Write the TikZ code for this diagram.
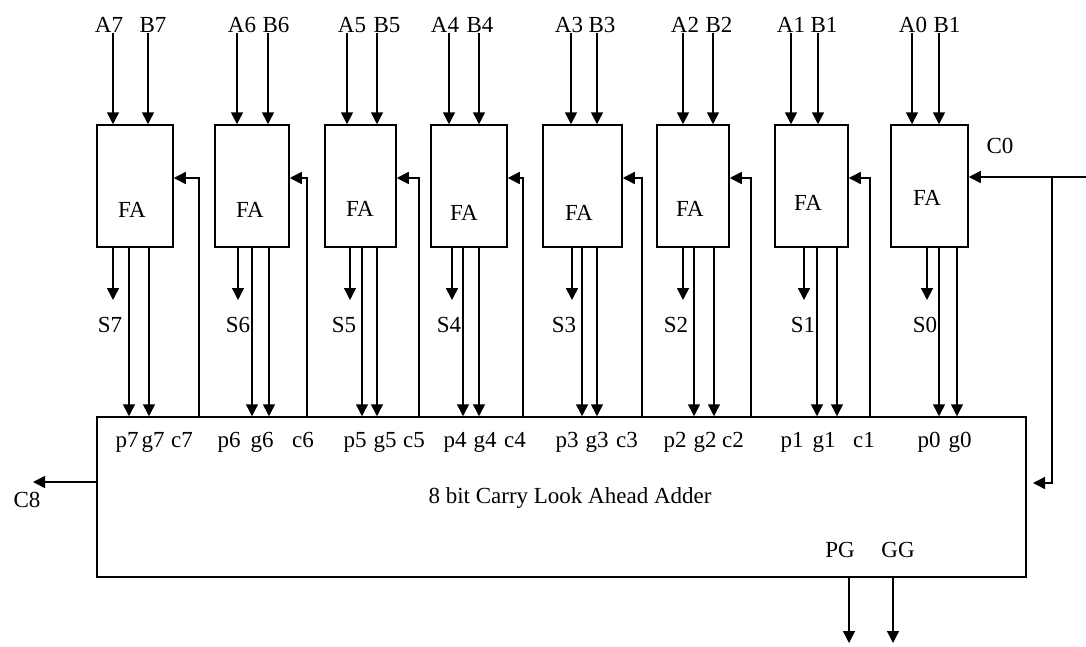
\documentclass[tikz,border=0pt]{standalone}
\usepackage{fontspec}
\setmainfont{Liberation Serif}
\usetikzlibrary{arrows.meta}
\begin{document}
\begin{tikzpicture}[x=1pt,y=-1pt,
  lbl/.style={font=\fontsize{23}{27}\selectfont, inner sep=0pt, anchor=base},
  wire/.style={line width=1.5pt, draw=black},
  arr/.style={wire, -{Triangle[length=12pt,width=12pt]}},
  fabox/.style={draw, line width=1.5pt, rectangle, inner sep=0pt, minimum height=122pt},
  clabox/.style={draw, line width=1.5pt, rectangle, inner sep=0pt, minimum width=929pt, minimum height=160pt}
]
\useasboundingbox (0,0) rectangle (1086,646);

% carry look-ahead block
\node[clabox] (cla) at (561.5,497) {};
\node[lbl] (clatxt) at (570,503) {8 bit Carry Look Ahead Adder};

% full adders
\foreach \i/\bl/\l/\r/\ax/\bx/\alx/\blx/\sx/\slx/\px/\gx/\plx/\glx/\fx/\fy in {
  7/B7/97/173/113/148/109/153/113/110/129/149/127/153/132/217,
  6/B6/215/289/237/268/242/276/238/238/252/269/229/262/250/217,
  5/B5/325/396/347/377/352/387/350/344/362/377/355/385/360/216,
  4/B4/431/507/449/479/445/480/452/449/463/479/455/485/464/220,
  3/B3/543/622/571/597/569/602/572/564/582/597/567/597/579/220,
  2/B2/657/729/683/713/685/719/683/676/694/714/675/705/690/216,
  1/B1/775/848/791/818/791/824/804/803/817/837/792/824/808/210,
  0/B1/891/968/912/939/913/947/927/925/939/957/929/960/927/205}{
  \pgfmathsetmacro\w{\r-\l}
  \pgfmathsetmacro\cxx{(\l+\r)/2}
  \node[fabox, minimum width=\w pt] (fa\i) at (\cxx,186) {};
  \node[lbl] (falbl\i) at (\fx,\fy) {FA};
  % inputs
  \node[lbl] (Alab\i) at (\alx,32) {A\i};
  \node[lbl] (Blab\i) at (\blx,32) {\bl};
  \coordinate (at\i) at (\ax,33);
  \coordinate (bt\i) at (\bx,33);
  \draw[arr] (at\i) -- (at\i |- fa\i.north);
  \draw[arr] (bt\i) -- (bt\i |- fa\i.north);
  % sum output
  \coordinate (st\i) at (\sx,300);
  \draw[arr] (fa\i.south -| st\i) -- (st\i);
  \node[lbl] (Slab\i) at (\slx,332) {S\i};
  % propagate / generate
  \coordinate (pp\i) at (\px,0);
  \coordinate (gg\i) at (\gx,0);
  \draw[arr] (fa\i.south -| pp\i) -- (cla.north -| pp\i);
  \draw[arr] (fa\i.south -| gg\i) -- (cla.north -| gg\i);
  \node[lbl] (plab\i) at (\plx,447) {p\i};
  \node[lbl] (glab\i) at (\glx,447) {g\i};
}

% internal carries
\foreach \i/\cx/\clx in {7/199/182, 6/307/303, 5/419/414, 4/523/515, 3/642/627, 2/751/733, 1/870/864}{
  \coordinate (cc\i) at (\cx,178);
  \draw[arr] (cla.north -| cc\i) -- (cc\i) -- (cc\i -| fa\i.east);
  \node[lbl] (clab\i) at (\clx,447) {c\i};
}

% carry in C0
\coordinate (c0in) at (1086,177);
\coordinate (c0j) at (1052,177);
\coordinate (c0b) at (1052,483);
\coordinate (c0tip) at (1033,483);
\draw[arr] (c0in) -- (fa0.east |- c0in);
\draw[arr] (c0j) -- (c0b) -- (c0tip);
\node[lbl] (C0lab) at (1000,153) {C0};

% carry out C8
\coordinate (c8tip) at (33,482);
\draw[arr] (cla.west |- c8tip) -- (c8tip);
\node[lbl] (C8lab) at (27,507) {C8};

% group propagate / generate
\node[lbl] (PGlab) at (840,557) {PG};
\node[lbl] (GGlab) at (898,557) {GG};
\coordinate (pgt) at (849,643);
\coordinate (ggt) at (893,643);
\draw[arr] (cla.south -| pgt) -- (pgt);
\draw[arr] (cla.south -| ggt) -- (ggt);
\end{tikzpicture}
\end{document}
